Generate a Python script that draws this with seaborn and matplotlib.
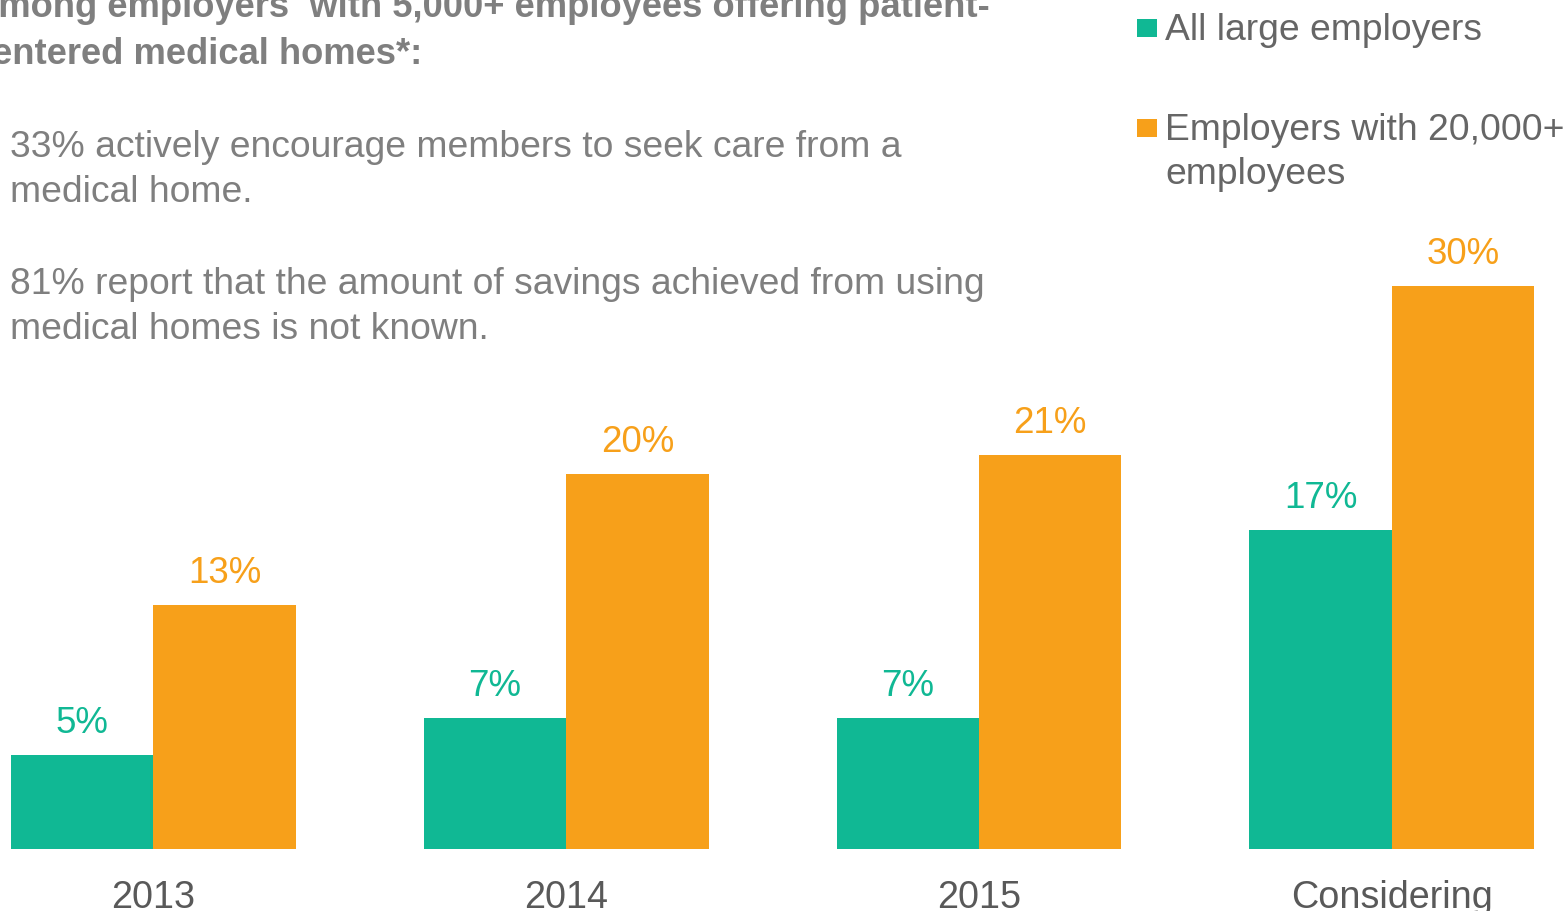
import matplotlib
matplotlib.use("Agg")
import matplotlib.pyplot as plt
from matplotlib.patches import Rectangle
import seaborn as sns
import pandas as pd

# Chart data
categories = ["2013", "2014", "2015", "Considering"]
all_large = [5, 7, 7, 17]
large_20k = [13, 20, 21, 30]
series_names = ["All large employers", "Employers with 20,000+\nemployees"]
series_colors = ["#10b894", "#f7a01a"]

title_lines = [
    "Among employers  with 5,000+ employees offering patient-",
    "centered medical homes*:",
]
note_lines = [
    "33% actively encourage members to seek care from a",
    "medical home.",
    "81% report that the amount of savings achieved from using",
    "medical homes is not known.",
]

df = pd.DataFrame({
    "category": categories * 2,
    "value": all_large + large_20k,
    "series": [series_names[0]] * len(categories) + [series_names[1]] * len(categories),
})

sns.set_theme(style="white")
plt.rcParams["font.family"] = ["Liberation Sans", "DejaVu Sans"]

W, H, DPI = 1566, 911, 100
BASE = 849           # pixel row of the bar baseline (from top)
PX_PER_UNIT = 18.76  # pixels per percentage point
fig = plt.figure(figsize=(W / DPI, H / DPI), dpi=DPI)
fig.patch.set_facecolor("white")
ax = fig.add_axes([0, (H - BASE) / H, 1, BASE / H])

sns.barplot(data=df, x="category", y="value", hue="series", palette=series_colors,
            width=0.69, gap=0, saturation=1, errorbar=None, linewidth=0,
            legend=False, ax=ax)

ax.set_xlim(-0.3718, 3.4218)
ax.set_ylim(0, BASE / PX_PER_UNIT)
ax.set_xlabel("")
ax.set_ylabel("")
ax.set_yticks([])
for s in ax.spines.values():
    s.set_visible(False)
ax.tick_params(axis="x", length=0, pad=22, labelsize=27.2, labelcolor="#595959")

for cont, col in zip(ax.containers, series_colors):
    vals = [int(round(b.get_height())) for b in cont]
    ax.bar_label(cont, labels=[f"{v}%" for v in vals], padding=10, color=col,
                 fontsize=26.5)


def put(x, y, s, **kw):
    fig.text(x / W, 1 - y / H, s, va="baseline", ha="left", **kw)


# Legend: colour key squares with their series names
key_rows = [19, 119]
for top, name, col in zip(key_rows, series_names, series_colors):
    fig.add_artist(Rectangle((1137 / W, 1 - (top + 18) / H), 20 / W, 18 / H,
                             transform=fig.transFigure, facecolor=col,
                             edgecolor="none"))
    for i, part in enumerate(name.split("\n")):
        put(1165, top + 21 + 44 * i, part, fontsize=26.8, color="#666666")

# Heading (bold) and notes
for y, line in zip([17, 64], title_lines):
    put(-28, y, line, fontsize=26.2, fontweight="bold", color="#7f7f7f")
for y, line in zip([157, 202, 294, 339], note_lines):
    put(10, y, line, fontsize=26.8, color="#7f7f7f")

fig.savefig("out.png", dpi=DPI, facecolor="white")
